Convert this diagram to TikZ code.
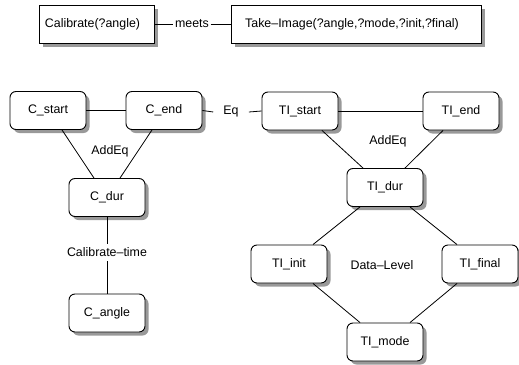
\documentclass[tikz,border=0pt]{standalone}
\usepackage{fontspec}
\setmainfont{Liberation Sans}
\usetikzlibrary{shadows,calc}
\begin{document}
\begin{tikzpicture}[x=1pt,y=-1pt,
  every node/.style={font=\fontsize{12.4}{14}\selectfont},
  conn/.style={line width=0.8pt},
  shd/.style={drop shadow={shadow xshift=3.5pt,shadow yshift=-3.5pt,fill=black!40,opacity=1}},
  sqbox/.style={draw,line width=0.9pt,fill=white,shd,minimum height=38pt,inner sep=0pt},
  rbox/.style={draw,line width=0.9pt,fill=white,shd,rounded corners=6pt,minimum width=76pt,minimum height=38pt,inner sep=0pt},
  lbl/.style={inner sep=0pt}]
\useasboundingbox (0,0) rectangle (519,364);
% top row
\node[sqbox,minimum width=115pt] (cal) at (96.5,24) {Calibrate(?angle)\hspace*{8pt}};
\node[sqbox,minimum width=250pt] (ti) at (356,24) {Take–Image(?angle,?mode,?init,?final)\hspace*{8pt}};
\node[inner xsep=1.5pt,inner ysep=0pt] (meets) at (192,24) {meets};
\draw[conn] (cal.east) -- (meets.west);
\draw[conn] (meets.east) -- (ti.west);
% left group
\node[rbox] (cs) at (48,110.5) {C\_start};
\node[rbox] (ce) at (164,110.5) {C\_end};
\node[rbox] (cd) at (107,197.5) {C\_dur};
\node[rbox] (ca) at (107,313) {C\_angle};
\node[lbl] (addl) at (110,151) {AddEq};
\node[inner xsep=0pt,inner ysep=4pt] (ctime) at (107,252.5) {Calibrate–time};
\draw[conn] (cs.east) -- (ce.west);
\draw[conn] ($(cs.south)+(14,0)$) -- ($(cd.north)+(-13,0)$);
\draw[conn] ($(ce.south)+(-12,0)$) -- ($(cd.north)+(13,0)$);
\draw[conn] (cd.south) -- (ctime.north);
\draw[conn] (ctime.south) -- (ca.north);
% Eq
\node[inner xsep=10pt,inner ysep=0pt] (eq) at (231,112) {Eq};
% right group
\node[rbox] (ts) at (300,111) {TI\_start};
\node[rbox] (te) at (461,111) {TI\_end};
\node[rbox] (td) at (385,187.5) {TI\_dur};
\node[rbox] (tin) at (289,264) {TI\_init};
\node[rbox] (tf) at (480,264) {TI\_final};
\node[rbox] (tm) at (385,342) {TI\_mode};
\node[lbl] (addr) at (388,141) {AddEq};
\node[lbl] (dl) at (382,265) {Data–Level};
\draw[conn] (ce.east) -- (eq.west);
\draw[conn] (eq.east) -- (ts.west);
\draw[conn] (ts.east) -- (te.west);
\draw[conn] ($(ts.south)+(22,0)$) -- ($(td.north)+(-22,0)$);
\draw[conn] ($(te.south)+(-18,0)$) -- ($(td.north)+(20,0)$);
\draw[conn] ($(td.south)+(-25,0)$) -- ($(tin.north)+(24,0)$);
\draw[conn] ($(td.south)+(25,0)$) -- ($(tf.north)+(-23,0)$);
\draw[conn] ($(tin.south)+(24,0)$) -- ($(tm.north)+(-25,0)$);
\draw[conn] ($(tf.south)+(-23,0)$) -- ($(tm.north)+(25,0)$);
\end{tikzpicture}
\end{document}
